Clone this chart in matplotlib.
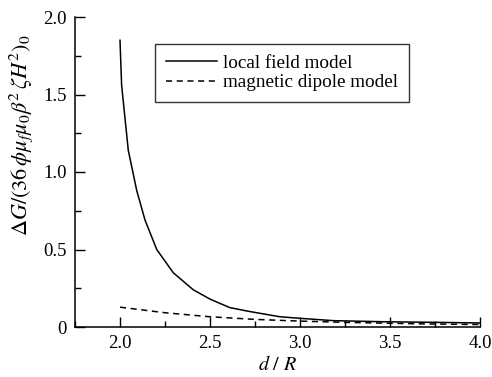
import matplotlib
matplotlib.use("Agg")
import matplotlib.pyplot as plt
from matplotlib.ticker import MultipleLocator

plt.rcParams["font.family"] = ["Liberation Serif", "DejaVu Serif"]
plt.rcParams["mathtext.fontset"] = "stix"

# values
local_d = [2.0, 2.009, 2.046, 2.093, 2.139, 2.204, 2.296, 2.407, 2.5, 2.61, 2.72,
           2.889, 3.0, 3.185, 3.46, 3.75, 4.0]
local_g = [1.85, 1.56, 1.14, 0.88, 0.69, 0.50, 0.35, 0.24, 0.18, 0.125, 0.10,
           0.066, 0.056, 0.041, 0.034, 0.030, 0.026]

dipole_d = [2.0, 2.25, 2.5, 2.75, 3.0, 3.25, 3.5, 3.75, 4.0]
dipole_g = [0.128, 0.092, 0.066, 0.049, 0.038, 0.030, 0.024, 0.019, 0.016]

fig = plt.figure(figsize=(4.92, 3.77), dpi=100)
ax = fig.add_axes([75 / 492, 50 / 377, 405 / 492, 310 / 377])

ax.plot(local_d, local_g, color="black", lw=1.1, label="local field model")
ax.plot(dipole_d, dipole_g, color="black", lw=1.1, ls=(0, (4, 3)),
        label="magnetic dipole model")

ax.set_xlim(1.75, 4.0)
ax.set_ylim(0, 2.0)
ax.xaxis.set_minor_locator(MultipleLocator(0.25))
ax.yaxis.set_minor_locator(MultipleLocator(0.25))
ax.set_yticks([0, 0.5, 1.0, 1.5, 2.0], ["0", "0.5", "1.0", "1.5", "2.0"])
ax.set_xticks([2.0, 2.5, 3.0, 3.5, 4.0], ["2.0", "2.5", "3.0", "3.5", "4.0"])

ax.spines["top"].set_visible(False)
ax.spines["right"].set_visible(False)
ax.spines["left"].set_linewidth(1.1)
ax.spines["bottom"].set_linewidth(1.1)
ax.tick_params(which="both", direction="in", labelsize=13.5, width=1.0)
ax.tick_params(which="major", length=7, pad=6)
ax.tick_params(which="minor", length=4)

ax.set_xlabel(r"$d\ /\ R$", fontsize=14.5, labelpad=3)
ax.set_ylabel(r"$\Delta G/(36\,\phi\mu_f\mu_0\beta^2\,\zeta H^2)_0$", fontsize=16)
ax.yaxis.set_label_coords(-40 / 405, (327 - 135) / 310)

leg = ax.legend(loc="upper left", bbox_to_anchor=(80 / 405, 1 - 27 / 310),
                fontsize=13.8, frameon=True, fancybox=False, edgecolor="black",
                handlelength=2.7, handletextpad=0.3, borderpad=0.55,
                labelspacing=0.1, borderaxespad=0)
leg.get_frame().set_linewidth(1.0)

fig.savefig("out.png", dpi=100)
